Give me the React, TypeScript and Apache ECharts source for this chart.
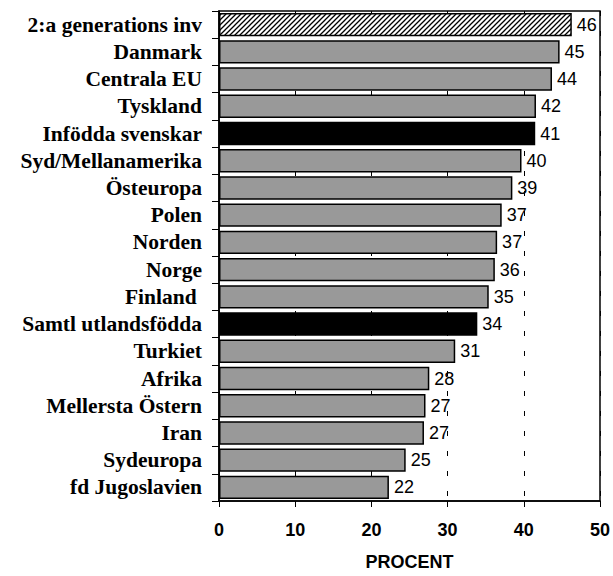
import React, { useEffect, useRef } from "react";
import * as echarts from "echarts";

const categories = [
  "2:a generations inv",
  "Danmark",
  "Centrala EU",
  "Tyskland",
  "Infödda svenskar",
  "Syd/Mellanamerika",
  "Östeuropa",
  "Polen",
  "Norden",
  "Norge",
  "Finland ",
  "Samtl utlandsfödda",
  "Turkiet",
  "Afrika",
  "Mellersta Östern",
  "Iran",
  "Sydeuropa",
  "fd Jugoslavien",
];
const values = [46.3, 44.7, 43.7, 41.6, 41.5, 39.7, 38.5, 37.1, 36.5, 36.2, 35.4, 33.9, 31.0, 27.6, 27.1, 26.9, 24.5, 22.3];
const valueLabels = ["46", "45", "44", "42", "41", "40", "39", "37", "37", "36", "35", "34", "31", "28", "27", "27", "25", "22"];
const groups = ["hatch", "gray", "gray", "gray", "black", "gray", "gray", "gray", "gray", "gray", "gray", "black", "gray", "gray", "gray", "gray", "gray", "gray"];
const xTicks = [0, 10, 20, 30, 40, 50];
const axisName = "PROCENT";

function makeHatch() {
  const c = document.createElement("canvas");
  const s = 5;
  c.width = s;
  c.height = s;
  const ctx = c.getContext("2d")!;
  ctx.fillStyle = "#fff";
  ctx.fillRect(0, 0, s, s);
  ctx.strokeStyle = "#000";
  ctx.lineWidth = 1.3;
  ctx.beginPath();
  ctx.moveTo(-1, s + 1);
  ctx.lineTo(s + 1, -1);
  ctx.moveTo(-1, 1);
  ctx.lineTo(1, -1);
  ctx.moveTo(s - 1, s + 1);
  ctx.lineTo(s + 1, s - 1);
  ctx.stroke();
  return c;
}

export default function App() {
  const ref = useRef<HTMLDivElement>(null);
  useEffect(() => {
    document.body.style.margin = "0";
    const chart = echarts.init(ref.current!, undefined, { renderer: "svg" });
    const hatch = makeHatch();
    const colorFor = (g: string) =>
      g === "hatch" ? { image: hatch, repeat: "repeat" } : g === "black" ? "#000000" : "#999999";
    chart.setOption({
      animation: false,
      backgroundColor: "#ffffff",
      grid: {
        left: 219,
        right: 13,
        top: 11,
        bottom: 74,
        show: true,
        borderColor: "#000",
        borderWidth: 1.5,
        backgroundColor: "transparent",
      },
      xAxis: {
        type: "value",
        min: xTicks[0],
        max: xTicks[xTicks.length - 1],
        interval: 10,
        name: axisName,
        nameLocation: "middle",
        nameGap: 52,
        nameTextStyle: { fontFamily: "Liberation Sans, Arial", fontWeight: "bold", fontSize: 18, color: "#000" },
        axisLine: { show: true, lineStyle: { color: "#000", width: 1.5 } },
        axisTick: { show: true, length: 6, lineStyle: { color: "#000", width: 1 } },
        axisLabel: { margin: 20, fontFamily: "Liberation Sans, Arial", fontWeight: "bold", fontSize: 18, color: "#000" },
        splitLine: { show: true, lineStyle: { color: "#000", width: 1, type: [5, 15] } },
      },
      yAxis: {
        type: "category",
        data: categories,
        inverse: true,
        axisLine: { show: true, lineStyle: { color: "#000", width: 1.5 } },
        axisTick: { show: true, length: 7, lineStyle: { color: "#000", width: 1 } },
        axisLabel: {
          interval: 0,
          margin: 17,
          fontFamily: "Liberation Serif, Times New Roman",
          fontWeight: "bold",
          fontSize: 21.5,
          color: "#000",
        },
      },
      series: [
        {
          type: "bar",
          barCategoryGap: "14%",
          data: values.map((v, i) => ({
            value: v,
            itemStyle: { color: colorFor(groups[i]), borderColor: "#000", borderWidth: 1.5 },
          })),
          label: {
            show: true,
            position: "right",
            distance: 5,
            fontFamily: "Liberation Sans, Arial",
            fontSize: 18,
            color: "#000",
            formatter: (p: any) => valueLabels[p.dataIndex],
          },
        },
      ],
    });
    return () => chart.dispose();
  }, []);
  return <div ref={ref} style={{ width: 613, height: 576 }} />;
}
